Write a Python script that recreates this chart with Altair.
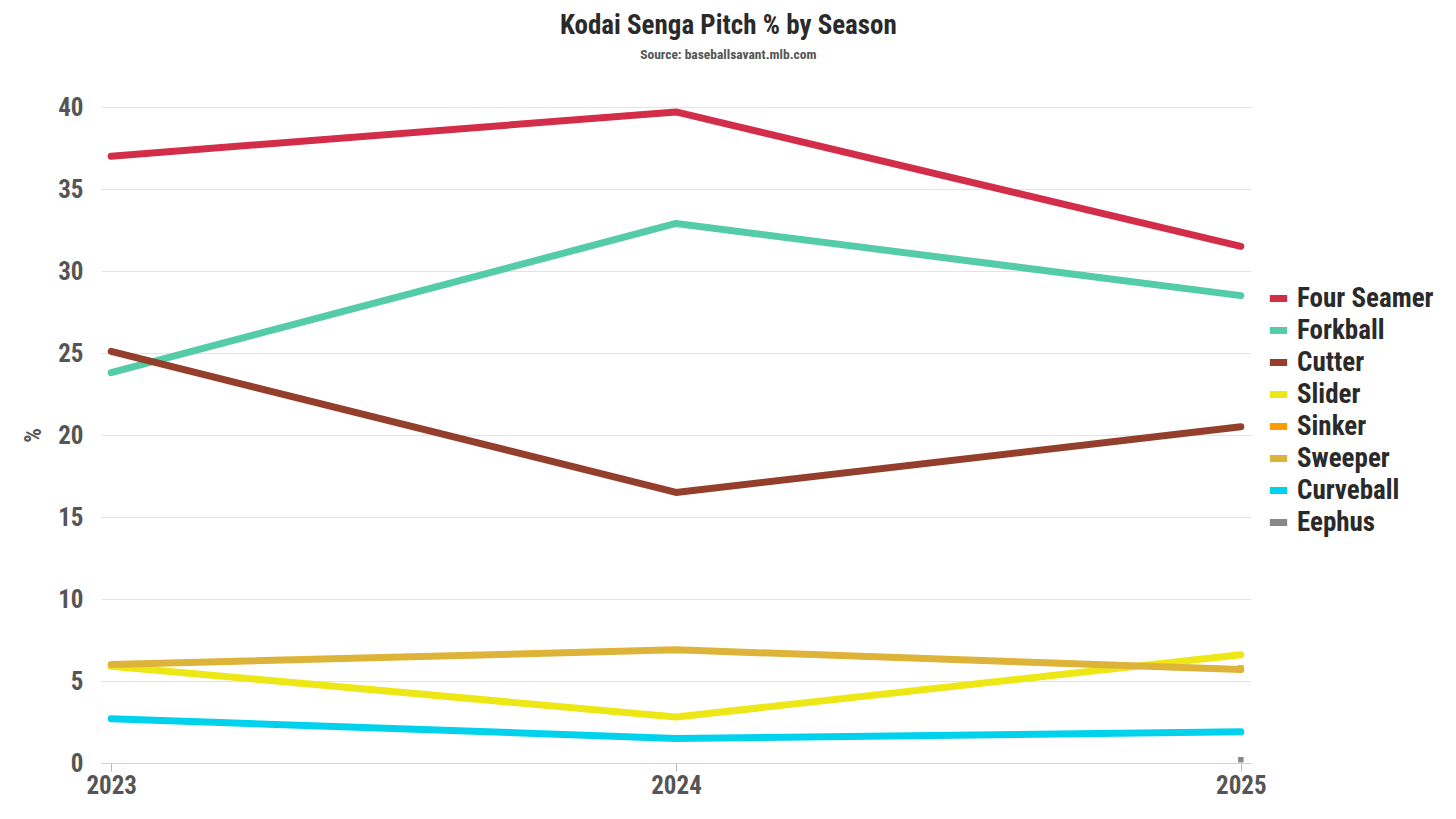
import altair as alt
import pandas as pd

seasons = ["2023", "2024", "2025"]
pitches = ["Four Seamer", "Forkball", "Cutter", "Slider", "Sinker", "Sweeper", "Curveball", "Eephus"]
colors = ["#d22d49", "#55cca8", "#933f2c", "#eee716", "#fe9d00", "#ddb33a", "#00d1ed", "#888888"]

four_seamer = [37.0, 39.7, 31.5]
forkball = [23.8, 32.9, 28.5]
cutter = [25.1, 16.5, 20.5]
slider = [5.9, 2.8, 6.6]
sinker = [None, None, 5.8]
sweeper = [6.0, 6.9, 5.7]
curveball = [2.7, 1.5, 1.9]
eephus = [None, None, 0.2]

series = [four_seamer, forkball, cutter, slider, sinker, sweeper, curveball, eephus]
rows = []
for name, vals in zip(pitches, series):
    for s, v in zip(seasons, vals):
        if v is not None:
            rows.append({"Season": s, "Pitch": name, "Pct": v})
df = pd.DataFrame(rows)

FONT = "Roboto Condensed, Liberation Sans Narrow, Roboto"

x_enc = alt.X("Season:O", title=None,
              scale=alt.Scale(type="point", padding=0.018),
              axis=alt.Axis(labelAngle=0, labelFontSize=25, labelFontWeight="bold",
                            labelColor="#555555", labelFont=FONT, domainColor="#c8d2dc",
                            tickColor="#bbbbbb", tickSize=8, labelPadding=2, grid=False))
y_enc = alt.Y("Pct:Q", title="%", scale=alt.Scale(domain=[0, 40]),
              axis=alt.Axis(values=[0, 5, 10, 15, 20, 25, 30, 35, 40], labelFontSize=25,
                            labelFontWeight="bold", labelColor="#555555", labelFont=FONT,
                            titleFont=FONT, titleFontSize=23, titleColor="#555555",
                            titleFontWeight="bold", titlePadding=12,
                            domain=False, ticks=False, labelPadding=18,
                            gridColor="#e3e3e3", gridWidth=1))
color_enc = alt.Color("Pitch:N", sort=pitches,
                      scale=alt.Scale(domain=pitches, range=colors),
                      legend=alt.Legend(title=None, orient="none", legendX=1164, legendY=178,
                                        labelFont=FONT,
                                        labelFontSize=27, labelFontWeight="bold",
                                        labelColor="#2a2a2a", symbolType="stroke",
                                        symbolStrokeWidth=7, symbolSize=300,
                                        rowPadding=3, labelOffset=5))

single = alt.Chart(df).transform_filter(
    alt.FieldOneOfPredicate(field="Pitch", oneOf=["Sinker", "Eephus"])
).mark_square(size=30, opacity=1).encode(x=x_enc, y=y_enc, color=color_enc)

lines = alt.Chart(df).transform_filter(
    ~alt.FieldOneOfPredicate(field="Pitch", oneOf=["Sinker", "Eephus"])
).mark_line(strokeWidth=7, strokeCap="round", strokeJoin="round").encode(
    x=x_enc, y=y_enc, color=color_enc, order=alt.Order("Season:O"))

chart = alt.layer(single, lines).properties(
    width=1150, height=656,
    background="white",
    title=alt.TitleParams("Kodai Senga Pitch % by Season",
                          subtitle="Source: baseballsavant.mlb.com",
                          font=FONT, fontSize=27, fontWeight="bold", color="#2a2a2a",
                          subtitleFont=FONT, subtitleFontSize=13.5, subtitleFontWeight="bold",
                          subtitleColor="#555555", anchor="middle", frame="bounds",
                          offset=33, subtitlePadding=8),
    padding={"left": 14, "top": 3, "right": 5, "bottom": 5}
).configure_view(strokeWidth=0, stroke="transparent")

chart.save("out.html", embed_options={"renderer": "svg", "actions": False})
